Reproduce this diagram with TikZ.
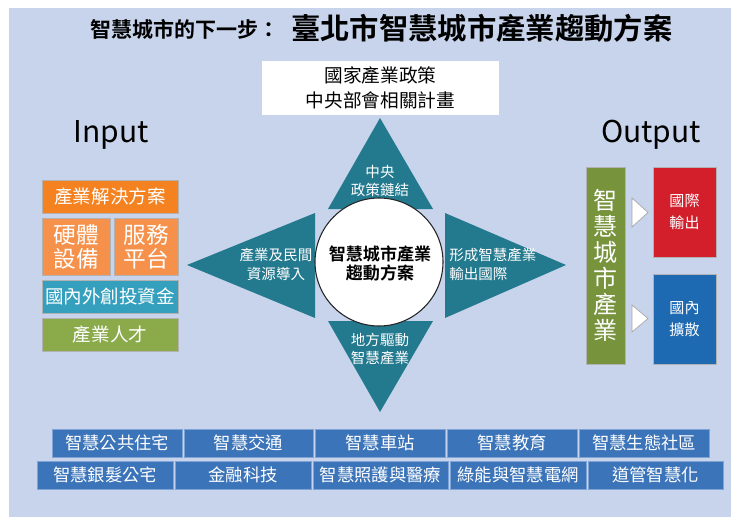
\documentclass[tikz,border=0pt]{standalone}
\usepackage{fontspec}
\setmainfont{Noto Sans CJK TC}
\newfontfamily\cjkb{Noto Sans CJK TC Bold}
\definecolor{bgc}{HTML}{C8D4EB}
\definecolor{tealc}{HTML}{23798E}
\definecolor{org1}{HTML}{F58220}
\definecolor{org2}{HTML}{F5914B}
\definecolor{tealb}{HTML}{35A0BE}
\definecolor{grn}{HTML}{8BAA4A}
\definecolor{olv}{HTML}{77933C}
\definecolor{redc}{HTML}{D21F2B}
\definecolor{bluo}{HTML}{1D69B2}
\definecolor{bluc}{HTML}{3B74B9}
\definecolor{blued}{HTML}{7EA3D4}
\newcommand{\fs}[2]{\fontsize{#1}{#2}\selectfont}
\tikzset{
  boxc/.style={draw=white!70!black, line width=0.5pt, inner sep=0pt, text=white, align=center},
  botbox/.style={fill=bluc, draw=blued, line width=0.6pt, inner sep=0pt, text=white, font=\fs{13}{15}},
  tritext/.style={text=white, font=\fs{10.9}{14}, inner sep=0pt},
  tri/.style={fill=tealc, draw=none},
  wtri/.style={fill=white, draw=gray!70, line width=0.5pt}
}
\begin{document}
\begin{tikzpicture}[x=0.75pt,y=-0.75pt]
\useasboundingbox (0,0) rectangle (731,517);
\fill[white] (0,0) rectangle (731,517);
\fill[bgc] (9,8) rectangle (731,517);
% title
\node[anchor=base west, inner sep=0pt] (t1) at (90,38) {\cjkb\fs{15.75}{18}智慧城市的下一步：};
\node[anchor=base west, inner sep=0pt] (t2) at (291,40) {\cjkb\fs{22}{26}臺北市智慧城市產業趨動方案};
% top box
\node[fill=white, minimum width=237*0.75pt, minimum height=53*0.75pt, inner sep=0pt, align=center, font=\fs{14}{18.75}] (top) at (380.5,88) {國家產業政策\\中央部會相關計畫};
% Input / Output
\node[font=\fs{22.5}{26}, inner sep=0pt] (inp) at (111,135) {Input};
\node[font=\fs{22.5}{26}, inner sep=0pt] (outp) at (651,135) {Output};
% triangles
\fill[tri] (380,118) -- (433,209) -- (328,209) -- cycle;
\fill[tri] (380,412) -- (433,321) -- (328,321) -- cycle;
\fill[tri] (187,265) -- (315,213) -- (315,318) -- cycle;
\fill[tri] (566,265) -- (445,213) -- (445,318) -- cycle;
\node[circle, fill=white, draw=black!85, line width=0.8pt, minimum size=128*0.75pt, inner sep=0pt] (ctr) at (379,262) {};
\node[align=center, inner sep=0pt, font=\cjkb\fs{12.8}{14.3}] (ctrt) at (380,263.5) {智慧城市產業\\趨動方案};
\node[tritext, align=center] (tt) at (380,181) {中央\\政策鏈結};
\node[tritext, align=center] (bt) at (380,349) {地方驅動\\智慧產業};
\node[tritext, align=center] (lt) at (276,264.5) {產業及民間\\資源導入};
\node[tritext, align=left, anchor=west] (rt) at (449,264.5) {形成智慧產業\\輸出國際};
% input boxes
\node[boxc, fill=org1, minimum width=136*0.75pt, minimum height=33*0.75pt, font=\fs{13.9}{16}] (ib1) at (110,196.5) {產業解決方案};
\node[boxc, fill=org2, minimum width=68*0.75pt, minimum height=57*0.75pt, font=\fs{17}{18}] (ib2) at (76,246.5) {硬體\\設備};
\node[boxc, fill=org2, minimum width=64*0.75pt, minimum height=57*0.75pt, font=\fs{17}{18}] (ib3) at (146,246.5) {服務\\平台};
\node[boxc, fill=tealb, minimum width=136*0.75pt, minimum height=33*0.75pt, font=\fs{13.9}{16}] (ib4) at (110,296.5) {國內外創投資金};
\node[boxc, fill=grn, minimum width=136*0.75pt, minimum height=33*0.75pt, font=\fs{13.9}{16}] (ib5) at (110,334.5) {產業人才};
% output
\node[boxc, fill=olv, minimum width=39*0.75pt, minimum height=197*0.75pt, font=\fs{18}{19.5}] (ob1) at (605.5,265.5) {智\\慧\\城\\市\\產\\業};
\node[boxc, fill=redc, minimum width=63*0.75pt, minimum height=90*0.75pt, font=\fs{11.3}{16.5}] (ob2) at (684.5,212) {國際\\輸出};
\node[boxc, fill=bluo, minimum width=63*0.75pt, minimum height=90*0.75pt, font=\fs{11.3}{16.5}] (ob3) at (684.5,319) {國內\\擴散};
\draw[wtri] (632,198) -- (648,212.5) -- (632,227) -- cycle;
\draw[wtri] (632,305) -- (648,318.5) -- (632,332) -- cycle;
% bottom rows
\node[botbox, minimum width=130*0.75pt, minimum height=28*0.75pt] (b1) at (117,443) {智慧公共住宅};
\node[botbox, minimum width=129*0.75pt, minimum height=28*0.75pt] (b2) at (248.5,443) {智慧交通};
\node[botbox, minimum width=130*0.75pt, minimum height=28*0.75pt] (b3) at (380,443) {智慧車站};
\node[botbox, minimum width=130*0.75pt, minimum height=28*0.75pt] (b4) at (512,443) {智慧教育};
\node[botbox, minimum width=130*0.75pt, minimum height=28*0.75pt] (b5) at (644,443) {智慧生態社區};
\node[botbox, minimum width=136*0.75pt, minimum height=28*0.75pt] (c1) at (105,475) {智慧銀髮公宅};
\node[botbox, minimum width=136*0.75pt, minimum height=28*0.75pt] (c2) at (243,475) {金融科技};
\node[botbox, minimum width=135*0.75pt, minimum height=28*0.75pt] (c3) at (380.5,475) {智慧照護與醫療};
\node[botbox, minimum width=136*0.75pt, minimum height=28*0.75pt] (c4) at (518,475) {綠能與智慧電網};
\node[botbox, minimum width=135*0.75pt, minimum height=28*0.75pt] (c5) at (655.5,475) {道管智慧化};
\end{tikzpicture}
\end{document}
